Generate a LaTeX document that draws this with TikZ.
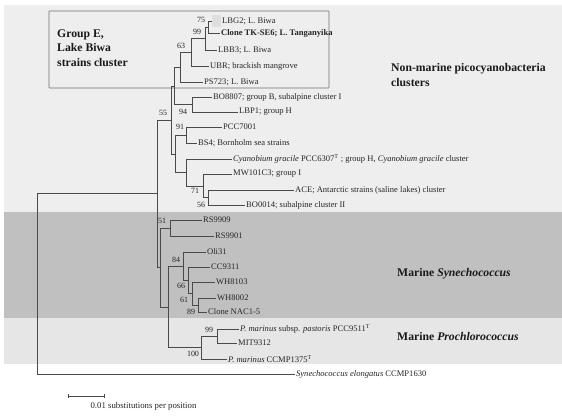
\documentclass[tikz,border=0pt]{standalone}
\usepackage{fontspec}
\setmainfont{Liberation Serif}
\usetikzlibrary{arrows.meta}

\definecolor{bgnon}{HTML}{EEEEEE}
\definecolor{bgsyn}{HTML}{C0C0C0}
\definecolor{bgpro}{HTML}{E6E6E6}
\definecolor{treegray}{HTML}{4A4A4A}
\definecolor{boxgray}{HTML}{707070}

\newcommand\leaffont{\fontsize{7.3}{8}\selectfont}

\tikzset{
  branch/.style={draw=treegray, line width=0.5pt},
  leaf/.style={anchor=west, inner sep=0.8pt, font=\leaffont, text=black!85},
  boot/.style={inner sep=0pt, font=\fontsize{6.8}{7}\selectfont, text=black!85},
  cluster/.style={anchor=west, align=left, inner sep=0pt, font=\fontsize{10}{12.4}\selectfont\bfseries, text=black!90},
}

\begin{document}
\begin{tikzpicture}[x=0.03cm, y=-0.03cm]
  \useasboundingbox (0,0) rectangle (562,418);
  % shaded groups
  \fill[bgnon] (4,5) rectangle (562,212);
  \fill[bgsyn] (4,212) rectangle (562,318);
  \fill[bgpro] (4,318) rectangle (562,364);
  \draw[boxgray, line width=0.5pt, rounded corners=0.5pt] (49,11) rectangle (329,88);

  % group texts
  \node[cluster] (groupE) at (57,48) {Group E,\\Lake Biwa\\strains cluster};
  \node[cluster] (nonmarine) at (391,75) {Non-marine picocyanobacteria\\clusters};
  \node[cluster] (marsyn) at (397,274) {Marine \textit{Synechococcus}};
  \node[cluster] (marpro) at (397,336) {Marine \textit{Prochlorococcus}};

  % leaves
  \node[leaf] (lbg2) at (221,21) {LBG2; L. Biwa};
  \node[leaf, font=\leaffont\bfseries] (tkse6) at (220,33) {Clone TK-SE6; L. Tanganyika};
  \node[leaf] (lbb3) at (217,50) {LBB3; L. Biwa};
  \node[leaf] (ubr) at (209,66) {UBR; brackish mangrove};
  \node[leaf] (ps723) at (203,82) {PS723; L. Biwa};
  \node[leaf] (bo8807) at (212,97) {BO8807; group B, subalpine cluster I};
  \node[leaf] (lbp1) at (238,112) {LBP1; group H};
  \node[leaf] (pcc7001) at (222,127) {PCC7001};
  \node[leaf] (bs4) at (197,143) {BS4; Bornholm sea strains};
  \node[leaf] (cyano) at (232,159) {\textit{Cyanobium gracile} PCC6307\textsuperscript{T} ; group H, \textit{Cyanobium gracile} cluster};
  \node[leaf] (mw101) at (232,174) {MW101C3; group I};
  \node[leaf] (ace) at (294,190) {ACE; Antarctic strains (saline lakes) cluster};
  \node[leaf] (bo0014) at (245,205) {BO0014; subalpine cluster II};
  \node[leaf] (rs9909) at (202,220) {RS9909};
  \node[leaf] (rs9901) at (214,236) {RS9901};
  \node[leaf] (oli31) at (206,252) {Oli31};
  \node[leaf] (cc9311) at (210,267) {CC9311};
  \node[leaf] (wh8103) at (215,282) {WH8103};
  \node[leaf] (wh8002) at (216,298) {WH8002};
  \node[leaf] (nac15) at (207,312) {Clone NAC1-5};
  \node[leaf] (pastoris) at (239,329) {\textit{P. marinus} subsp. \textit{pastoris} PCC9511\textsuperscript{T}};
  \node[leaf] (mit9312) at (237,343) {MIT9312};
  \node[leaf] (ccmp1375) at (227,359) {\textit{P. marinus} CCMP1375\textsuperscript{T}};
  \node[leaf] (elong) at (295,374) {\textit{Synechococcus elongatus} CCMP1630};

  % inner nodes
  \coordinate (nA) at (208,27);
  \coordinate (nB) at (205,38.5);
  \coordinate (nC) at (191,52);
  \coordinate (nD) at (180,67);
  \coordinate (n94) at (192,104.5);
  \coordinate (nE) at (174,86);
  \coordinate (n91) at (186,135);
  \coordinate (n56) at (208,197.5);
  \coordinate (n71) at (203,186);
  \coordinate (nK) at (186,172.5);
  \coordinate (nJ) at (175,154);
  \coordinate (nG) at (171,120);
  \coordinate (n51) at (170,228);
  \coordinate (n89) at (198,305);
  \coordinate (n61) at (192,293.5);
  \coordinate (n66) at (188,280);
  \coordinate (n84) at (183,266);
  \coordinate (n99) at (217,336);
  \coordinate (n100) at (201,347.5);
  \coordinate (nI) at (168,307);
  \coordinate (nH) at (160,267.5);
  \coordinate (n55) at (157,193.5);
  \coordinate (root) at (37,284);

  % branches
  \foreach \p/\c in {nA/lbg2, nA/tkse6, nB/nA, nB/lbb3, nC/nB, nC/ubr,
      nD/nC, nD/ps723, n94/bo8807, n94/lbp1, nE/nD, nE/n94,
      n91/pcc7001, n91/bs4, n56/ace, n56/bo0014, n71/mw101, n71/n56,
      nK/cyano, nK/n71, nJ/n91, nJ/nK, nG/nE, nG/nJ,
      n51/rs9909, n51/rs9901, n89/wh8002, n89/nac15, n61/wh8103, n61/n89,
      n66/cc9311, n66/n61, n84/oli31, n84/n66, n99/pastoris, n99/mit9312,
      n100/n99, n100/ccmp1375, nI/n84, nI/n100, nH/n51, nH/nI,
      n55/nG, n55/nH, root/n55, root/elong}
    \draw[branch] (\p) |- (\c);
  \fill[black!13] (212,15) rectangle (220.5,26.5);

  % bootstrap values
  \node[boot] (b75) at (201,20) {75};
  \node[boot] (b99a) at (197,32) {99};
  \node[boot] (b63) at (181,46) {63};
  \node[boot] (b94) at (183,112) {94};
  \node[boot] (b91) at (180,127) {91};
  \node[boot] (b55) at (163,113) {55};
  \node[boot] (b71) at (195,191) {71};
  \node[boot] (b56) at (201,205) {56};
  \node[boot] (b51) at (162,221) {51};
  \node[boot] (b84) at (176,260) {84};
  \node[boot] (b66) at (181,286) {66};
  \node[boot] (b61) at (184,300) {61};
  \node[boot] (b89) at (191,312) {89};
  \node[boot] (b99b) at (209,330) {99};
  \node[boot] (b100) at (193,354) {100};

  % scale bar
  \coordinate (sbl) at (68,396);
  \coordinate (sbr) at (105,396);
  \draw[branch, {Bar[width=3pt]}-{Bar[width=3pt]}] (sbl) -- (sbr);
  \node[leaf, anchor=center, font=\fontsize{7.5}{8}\selectfont] (sbtext) at (143.5,406) {0.01 substitutions per position};
\end{tikzpicture}
\end{document}
